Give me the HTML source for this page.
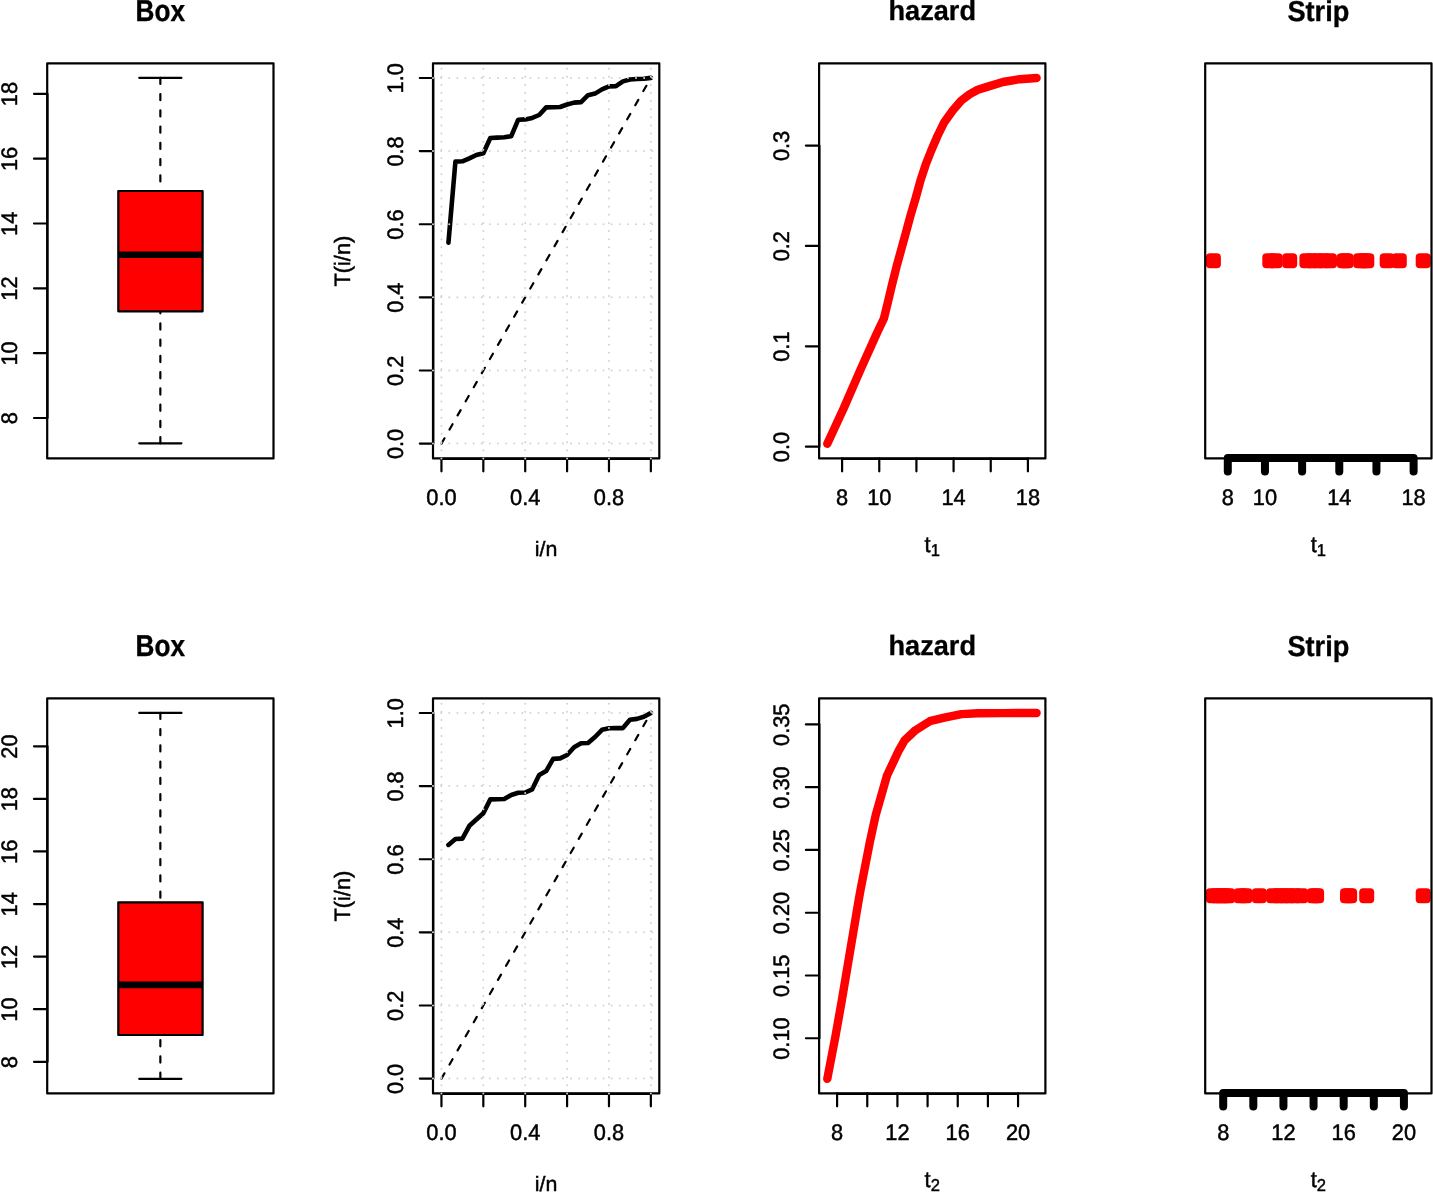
<!DOCTYPE html>
<html lang="en">
<head>
<meta charset="utf-8">
<title>Box, TTT, hazard and Strip plots</title>
<style>
html,body{margin:0;padding:0;background:#fff;}
body{width:1433px;height:1192px;overflow:hidden;}
svg{display:block;}
svg text{font-family:"Liberation Sans", sans-serif;fill:#000;text-rendering:geometricPrecision;}
</style>
</head>
<body>
<svg width="1433" height="1192" viewBox="0 0 1433 1192">
<rect width="1433" height="1192" fill="#fff"/>
<path d="M160.35 443.3V311.3M160.35 77.8V191" fill="none" stroke="#000" stroke-width="2.2" stroke-dasharray="6.09 10.16" stroke-linecap="round"/>
<path d="M139.25 443.3h42.2M139.25 77.8h42.2" fill="none" stroke="#000" stroke-width="2.2" stroke-linecap="round"/>
<rect x="118.3" y="191" width="84.3" height="120.3" fill="#f00" stroke="#000" stroke-width="2.2" stroke-linejoin="round"/>
<path d="M118.3 254.8H202.6" fill="none" stroke="#000" stroke-width="6.6" stroke-linecap="butt"/>
<path d="M47.5 93.8V418M47.2 418h-13.2M47.2 353.16h-13.2M47.2 288.32h-13.2M47.2 223.48h-13.2M47.2 158.64h-13.2M47.2 93.8h-13.2" fill="none" stroke="#000" stroke-width="2.2" stroke-linecap="round"/>
<text transform="translate(16.9 418.3) rotate(-90) scale(1 1.03)" font-size="21.8" text-anchor="middle" stroke="#000" stroke-width="0.45">8</text>
<text transform="translate(16.9 353.46) rotate(-90) scale(1 1.03)" font-size="21.8" text-anchor="middle" stroke="#000" stroke-width="0.45">10</text>
<text transform="translate(16.9 288.62) rotate(-90) scale(1 1.03)" font-size="21.8" text-anchor="middle" stroke="#000" stroke-width="0.45">12</text>
<text transform="translate(16.9 223.78) rotate(-90) scale(1 1.03)" font-size="21.8" text-anchor="middle" stroke="#000" stroke-width="0.45">14</text>
<text transform="translate(16.9 158.94) rotate(-90) scale(1 1.03)" font-size="21.8" text-anchor="middle" stroke="#000" stroke-width="0.45">16</text>
<text transform="translate(16.9 94.1) rotate(-90) scale(1 1.03)" font-size="21.8" text-anchor="middle" stroke="#000" stroke-width="0.45">18</text>
<rect x="47.2" y="63.3" width="226.3" height="395.1" fill="none" stroke="#000" stroke-width="2.2" stroke-linejoin="round"/>
<text transform="translate(160.35 20.65) scale(1 1.15)" font-size="26.2" text-anchor="middle" font-weight="bold" stroke="#000" stroke-width="0.3">Box</text>
<path d="M160.35 1078.8V1035M160.35 712.9V902.3" fill="none" stroke="#000" stroke-width="2.2" stroke-dasharray="6.09 10.16" stroke-linecap="round"/>
<path d="M139.25 1078.8h42.2M139.25 712.9h42.2" fill="none" stroke="#000" stroke-width="2.2" stroke-linecap="round"/>
<rect x="118.3" y="902.3" width="84.3" height="132.7" fill="#f00" stroke="#000" stroke-width="2.2" stroke-linejoin="round"/>
<path d="M118.3 984.9H202.6" fill="none" stroke="#000" stroke-width="6.6" stroke-linecap="butt"/>
<path d="M47.5 746.3V1061.78M47.2 1061.78h-13.2M47.2 1009.2h-13.2M47.2 956.62h-13.2M47.2 904.04h-13.2M47.2 851.46h-13.2M47.2 798.88h-13.2M47.2 746.3h-13.2" fill="none" stroke="#000" stroke-width="2.2" stroke-linecap="round"/>
<text transform="translate(16.9 1062.08) rotate(-90) scale(1 1.03)" font-size="21.8" text-anchor="middle" stroke="#000" stroke-width="0.45">8</text>
<text transform="translate(16.9 1009.5) rotate(-90) scale(1 1.03)" font-size="21.8" text-anchor="middle" stroke="#000" stroke-width="0.45">10</text>
<text transform="translate(16.9 956.92) rotate(-90) scale(1 1.03)" font-size="21.8" text-anchor="middle" stroke="#000" stroke-width="0.45">12</text>
<text transform="translate(16.9 904.34) rotate(-90) scale(1 1.03)" font-size="21.8" text-anchor="middle" stroke="#000" stroke-width="0.45">14</text>
<text transform="translate(16.9 851.76) rotate(-90) scale(1 1.03)" font-size="21.8" text-anchor="middle" stroke="#000" stroke-width="0.45">16</text>
<text transform="translate(16.9 799.18) rotate(-90) scale(1 1.03)" font-size="21.8" text-anchor="middle" stroke="#000" stroke-width="0.45">18</text>
<text transform="translate(16.9 746.6) rotate(-90) scale(1 1.03)" font-size="21.8" text-anchor="middle" stroke="#000" stroke-width="0.45">20</text>
<rect x="47.2" y="698.3" width="226.3" height="395.1" fill="none" stroke="#000" stroke-width="2.2" stroke-linejoin="round"/>
<text transform="translate(160.35 655.65) scale(1 1.15)" font-size="26.2" text-anchor="middle" font-weight="bold" stroke="#000" stroke-width="0.3">Box</text>
<polyline points="448.43,242.7 455.41,161.6 462.39,161.3 469.37,158.4 476.35,155 483.33,153.2 490.31,138 497.29,137.6 504.27,137.2 511.25,136.2 518.23,119.7 525.21,119.4 532.19,117.9 539.17,115 546.15,107.4 553.13,107.2 560.11,107 567.09,104.5 574.07,102.6 581.05,102.1 588.03,95.2 595.01,93.6 601.99,89.4 608.97,86.4 615.95,86.2 622.93,81.4 629.91,79.5 636.89,79 643.87,78.8 650.85,77.9" fill="none" stroke="#000" stroke-width="4.6" stroke-linecap="round" stroke-linejoin="round"/>
<path d="M441.45 443.6L650.85 78" fill="none" stroke="#000" stroke-width="2.2" stroke-dasharray="6.09 10.16" stroke-linecap="round"/>
<path d="M433.3 78V443.6M433 443.6h-13.2M433 370.48h-13.2M433 297.36h-13.2M433 224.24h-13.2M433 151.12h-13.2M433 78h-13.2" fill="none" stroke="#000" stroke-width="2.2" stroke-linecap="round"/>
<text transform="translate(402.7 443.9) rotate(-90) scale(1 1.03)" font-size="21.8" text-anchor="middle" stroke="#000" stroke-width="0.45">0.0</text>
<text transform="translate(402.7 370.78) rotate(-90) scale(1 1.03)" font-size="21.8" text-anchor="middle" stroke="#000" stroke-width="0.45">0.2</text>
<text transform="translate(402.7 297.66) rotate(-90) scale(1 1.03)" font-size="21.8" text-anchor="middle" stroke="#000" stroke-width="0.45">0.4</text>
<text transform="translate(402.7 224.54) rotate(-90) scale(1 1.03)" font-size="21.8" text-anchor="middle" stroke="#000" stroke-width="0.45">0.6</text>
<text transform="translate(402.7 151.42) rotate(-90) scale(1 1.03)" font-size="21.8" text-anchor="middle" stroke="#000" stroke-width="0.45">0.8</text>
<text transform="translate(402.7 78.3) rotate(-90) scale(1 1.03)" font-size="21.8" text-anchor="middle" stroke="#000" stroke-width="0.45">1.0</text>
<path d="M441.45 458.8H650.85M441.45 458.4V471.3M483.33 458.4V471.3M525.21 458.4V471.3M567.09 458.4V471.3M608.97 458.4V471.3M650.85 458.4V471.3" fill="none" stroke="#000" stroke-width="2.2" stroke-linecap="round" stroke-linejoin="round"/>
<text transform="translate(441.45 504.6) scale(1 1.03)" font-size="21.8" text-anchor="middle" stroke="#000" stroke-width="0.45">0.0</text>
<text transform="translate(525.21 504.6) scale(1 1.03)" font-size="21.8" text-anchor="middle" stroke="#000" stroke-width="0.45">0.4</text>
<text transform="translate(608.97 504.6) scale(1 1.03)" font-size="21.8" text-anchor="middle" stroke="#000" stroke-width="0.45">0.8</text>
<rect x="433" y="63.3" width="226.3" height="395.1" fill="none" stroke="#000" stroke-width="2.2" stroke-linejoin="round"/>
<path d="M441.45 458.4V63.3M483.33 458.4V63.3M525.21 458.4V63.3M567.09 458.4V63.3M608.97 458.4V63.3M650.85 458.4V63.3M433 443.6H659.3M433 370.48H659.3M433 297.36H659.3M433 224.24H659.3M433 151.12H659.3M433 78H659.3" fill="none" stroke="#d3d3d3" stroke-width="2" stroke-dasharray="0 8.12" stroke-linecap="round"/>
<text transform="translate(546.15 555.6) scale(1 0.97)" font-size="21.4" text-anchor="middle" stroke="#000" stroke-width="0.45">i/n</text>
<text transform="translate(350.3 261.15) rotate(-90) scale(1 1.02)" font-size="21.8" text-anchor="middle" stroke="#000" stroke-width="0.45">T(i/n)</text>
<polyline points="448.43,844.9 455.41,839 462.39,838.6 469.37,825.8 476.35,819.5 483.33,813.2 490.31,799.4 497.29,799.2 504.27,799 511.25,795 518.23,792.8 525.21,792.5 532.19,789.3 539.17,775 546.15,771.1 553.13,758.9 560.11,758.4 567.09,755 574.07,747.2 581.05,743.3 588.03,743 595.01,737 601.99,729.8 608.97,728.3 615.95,728.1 622.93,728.1 629.91,719.8 636.89,718.9 643.87,716.8 650.85,712.9" fill="none" stroke="#000" stroke-width="4.6" stroke-linecap="round" stroke-linejoin="round"/>
<path d="M441.45 1078.6L650.85 713" fill="none" stroke="#000" stroke-width="2.2" stroke-dasharray="6.09 10.16" stroke-linecap="round"/>
<path d="M433.3 713V1078.6M433 1078.6h-13.2M433 1005.48h-13.2M433 932.36h-13.2M433 859.24h-13.2M433 786.12h-13.2M433 713h-13.2" fill="none" stroke="#000" stroke-width="2.2" stroke-linecap="round"/>
<text transform="translate(402.7 1078.9) rotate(-90) scale(1 1.03)" font-size="21.8" text-anchor="middle" stroke="#000" stroke-width="0.45">0.0</text>
<text transform="translate(402.7 1005.78) rotate(-90) scale(1 1.03)" font-size="21.8" text-anchor="middle" stroke="#000" stroke-width="0.45">0.2</text>
<text transform="translate(402.7 932.66) rotate(-90) scale(1 1.03)" font-size="21.8" text-anchor="middle" stroke="#000" stroke-width="0.45">0.4</text>
<text transform="translate(402.7 859.54) rotate(-90) scale(1 1.03)" font-size="21.8" text-anchor="middle" stroke="#000" stroke-width="0.45">0.6</text>
<text transform="translate(402.7 786.42) rotate(-90) scale(1 1.03)" font-size="21.8" text-anchor="middle" stroke="#000" stroke-width="0.45">0.8</text>
<text transform="translate(402.7 713.3) rotate(-90) scale(1 1.03)" font-size="21.8" text-anchor="middle" stroke="#000" stroke-width="0.45">1.0</text>
<path d="M441.45 1093.8H650.85M441.45 1093.4V1106.3M483.33 1093.4V1106.3M525.21 1093.4V1106.3M567.09 1093.4V1106.3M608.97 1093.4V1106.3M650.85 1093.4V1106.3" fill="none" stroke="#000" stroke-width="2.2" stroke-linecap="round" stroke-linejoin="round"/>
<text transform="translate(441.45 1139.6) scale(1 1.03)" font-size="21.8" text-anchor="middle" stroke="#000" stroke-width="0.45">0.0</text>
<text transform="translate(525.21 1139.6) scale(1 1.03)" font-size="21.8" text-anchor="middle" stroke="#000" stroke-width="0.45">0.4</text>
<text transform="translate(608.97 1139.6) scale(1 1.03)" font-size="21.8" text-anchor="middle" stroke="#000" stroke-width="0.45">0.8</text>
<rect x="433" y="698.3" width="226.3" height="395.1" fill="none" stroke="#000" stroke-width="2.2" stroke-linejoin="round"/>
<path d="M441.45 1093.4V698.3M483.33 1093.4V698.3M525.21 1093.4V698.3M567.09 1093.4V698.3M608.97 1093.4V698.3M650.85 1093.4V698.3M433 1078.6H659.3M433 1005.48H659.3M433 932.36H659.3M433 859.24H659.3M433 786.12H659.3M433 713H659.3" fill="none" stroke="#d3d3d3" stroke-width="2" stroke-dasharray="0 8.12" stroke-linecap="round"/>
<text transform="translate(546.15 1190.6) scale(1 0.97)" font-size="21.4" text-anchor="middle" stroke="#000" stroke-width="0.45">i/n</text>
<text transform="translate(350.3 896.15) rotate(-90) scale(1 1.02)" font-size="21.8" text-anchor="middle" stroke="#000" stroke-width="0.45">T(i/n)</text>
<polyline points="827.3,443.8 843.6,408.51 860.4,369.82 877.1,332.73 883.9,318.49 888,301.65 892.2,284.01 896.4,267.17 900.6,251.83 905.7,233.28 910.7,214.84 915.7,198 920.8,179.45 925.8,164.31 930.8,151.68 937.6,135.74 944.3,122.21 952.7,110.48 961.1,100.76 969.4,94.44 977.8,89.73 986.2,87.12 1003,82.01 1019.8,79.2 1036.6,78" fill="none" stroke="#f00" stroke-width="8.4" stroke-linecap="round" stroke-linejoin="round"/>
<path d="M819.4 145.6V446.7M819.1 446.7h-13.2M819.1 346.3h-13.2M819.1 245.9h-13.2M819.1 145.6h-13.2" fill="none" stroke="#000" stroke-width="2.2" stroke-linecap="round"/>
<text transform="translate(788.8 447) rotate(-90) scale(1 1.03)" font-size="21.8" text-anchor="middle" stroke="#000" stroke-width="0.45">0.0</text>
<text transform="translate(788.8 346.6) rotate(-90) scale(1 1.03)" font-size="21.8" text-anchor="middle" stroke="#000" stroke-width="0.45">0.1</text>
<text transform="translate(788.8 246.2) rotate(-90) scale(1 1.03)" font-size="21.8" text-anchor="middle" stroke="#000" stroke-width="0.45">0.2</text>
<text transform="translate(788.8 145.9) rotate(-90) scale(1 1.03)" font-size="21.8" text-anchor="middle" stroke="#000" stroke-width="0.45">0.3</text>
<path d="M842.1 458.8H1027.9M842.1 458.4V471.3M879.26 458.4V471.3M916.42 458.4V471.3M953.58 458.4V471.3M990.74 458.4V471.3M1027.9 458.4V471.3" fill="none" stroke="#000" stroke-width="2.2" stroke-linecap="round" stroke-linejoin="round"/>
<text transform="translate(842.1 504.6) scale(1 1.03)" font-size="21.8" text-anchor="middle" stroke="#000" stroke-width="0.45">8</text>
<text transform="translate(879.26 504.6) scale(1 1.03)" font-size="21.8" text-anchor="middle" stroke="#000" stroke-width="0.45">10</text>
<text transform="translate(953.58 504.6) scale(1 1.03)" font-size="21.8" text-anchor="middle" stroke="#000" stroke-width="0.45">14</text>
<text transform="translate(1027.9 504.6) scale(1 1.03)" font-size="21.8" text-anchor="middle" stroke="#000" stroke-width="0.45">18</text>
<rect x="819.1" y="63.3" width="226.3" height="395.1" fill="none" stroke="#000" stroke-width="2.2" stroke-linejoin="round"/>
<text transform="translate(932.25 20.4) scale(1 1.035)" font-size="27.15" text-anchor="middle" font-weight="bold" stroke="#000" stroke-width="0.3">hazard</text>
<text transform="translate(932.25 552.3) scale(1 1.03)" font-size="21.8" text-anchor="middle" stroke="#000" stroke-width="0.45">t<tspan font-size="16.57" dy="3.4">1</tspan></text>
<polyline points="827.3,1078.8 835.7,1035 841.9,1000 858.7,900 860.5,890 870.2,840.3 875.7,815.2 887,775.5 898.9,750.3 904.6,740.3 915.5,730.2 929.8,721.2 944.3,717.6 961.4,714.1 977.8,713.3 1003,713.1 1036.6,713" fill="none" stroke="#f00" stroke-width="8.4" stroke-linecap="round" stroke-linejoin="round"/>
<path d="M819.4 724.45V1038.25M819.1 1038.25h-13.2M819.1 975.49h-13.2M819.1 912.73h-13.2M819.1 849.97h-13.2M819.1 787.21h-13.2M819.1 724.45h-13.2" fill="none" stroke="#000" stroke-width="2.2" stroke-linecap="round"/>
<text transform="translate(788.8 1038.55) rotate(-90) scale(1 1.03)" font-size="21.8" text-anchor="middle" stroke="#000" stroke-width="0.45">0.10</text>
<text transform="translate(788.8 975.79) rotate(-90) scale(1 1.03)" font-size="21.8" text-anchor="middle" stroke="#000" stroke-width="0.45">0.15</text>
<text transform="translate(788.8 913.03) rotate(-90) scale(1 1.03)" font-size="21.8" text-anchor="middle" stroke="#000" stroke-width="0.45">0.20</text>
<text transform="translate(788.8 850.27) rotate(-90) scale(1 1.03)" font-size="21.8" text-anchor="middle" stroke="#000" stroke-width="0.45">0.25</text>
<text transform="translate(788.8 787.51) rotate(-90) scale(1 1.03)" font-size="21.8" text-anchor="middle" stroke="#000" stroke-width="0.45">0.30</text>
<text transform="translate(788.8 724.75) rotate(-90) scale(1 1.03)" font-size="21.8" text-anchor="middle" stroke="#000" stroke-width="0.45">0.35</text>
<path d="M837.1 1093.8H1018.06M837.1 1093.4V1106.3M867.26 1093.4V1106.3M897.42 1093.4V1106.3M927.58 1093.4V1106.3M957.74 1093.4V1106.3M987.9 1093.4V1106.3M1018.06 1093.4V1106.3" fill="none" stroke="#000" stroke-width="2.2" stroke-linecap="round" stroke-linejoin="round"/>
<text transform="translate(837.1 1139.6) scale(1 1.03)" font-size="21.8" text-anchor="middle" stroke="#000" stroke-width="0.45">8</text>
<text transform="translate(897.42 1139.6) scale(1 1.03)" font-size="21.8" text-anchor="middle" stroke="#000" stroke-width="0.45">12</text>
<text transform="translate(957.74 1139.6) scale(1 1.03)" font-size="21.8" text-anchor="middle" stroke="#000" stroke-width="0.45">16</text>
<text transform="translate(1018.06 1139.6) scale(1 1.03)" font-size="21.8" text-anchor="middle" stroke="#000" stroke-width="0.45">20</text>
<rect x="819.1" y="698.3" width="226.3" height="395.1" fill="none" stroke="#000" stroke-width="2.2" stroke-linejoin="round"/>
<text transform="translate(932.25 655.4) scale(1 1.035)" font-size="27.15" text-anchor="middle" font-weight="bold" stroke="#000" stroke-width="0.3">hazard</text>
<text transform="translate(932.25 1187.3) scale(1 1.03)" font-size="21.8" text-anchor="middle" stroke="#000" stroke-width="0.45">t<tspan font-size="16.57" dy="3.4">2</tspan></text>
<rect x="1205.9" y="253.35" width="15.0" height="15.0" rx="4" fill="#f00"/>
<rect x="1262.3" y="253.35" width="15.0" height="15.0" rx="4" fill="#f00"/>
<rect x="1267.7" y="253.35" width="15.0" height="15.0" rx="4" fill="#f00"/>
<rect x="1282.2" y="253.35" width="15.0" height="15.0" rx="4" fill="#f00"/>
<rect x="1299.4" y="253.35" width="15.0" height="15.0" rx="4" fill="#f00"/>
<rect x="1304.5" y="253.35" width="15.0" height="15.0" rx="4" fill="#f00"/>
<rect x="1310.5" y="253.35" width="15.0" height="15.0" rx="4" fill="#f00"/>
<rect x="1315.5" y="253.35" width="15.0" height="15.0" rx="4" fill="#f00"/>
<rect x="1322" y="253.35" width="15.0" height="15.0" rx="4" fill="#f00"/>
<rect x="1336.7" y="253.35" width="15.0" height="15.0" rx="4" fill="#f00"/>
<rect x="1338.6" y="253.35" width="15.0" height="15.0" rx="4" fill="#f00"/>
<rect x="1353.1" y="253.35" width="15.0" height="15.0" rx="4" fill="#f00"/>
<rect x="1356.5" y="253.35" width="15.0" height="15.0" rx="4" fill="#f00"/>
<rect x="1359.3" y="253.35" width="15.0" height="15.0" rx="4" fill="#f00"/>
<rect x="1379.7" y="253.35" width="15.0" height="15.0" rx="4" fill="#f00"/>
<rect x="1391.8" y="253.35" width="15.0" height="15.0" rx="4" fill="#f00"/>
<rect x="1415.7" y="253.35" width="15.0" height="15.0" rx="4" fill="#f00"/>
<rect x="1205.2" y="63.3" width="226.3" height="395.1" fill="none" stroke="#000" stroke-width="2.2" stroke-linejoin="round"/>
<path d="M1227.8 458H1413.6M1227.8 458V471.4M1264.96 458V471.4M1302.12 458V471.4M1339.28 458V471.4M1376.44 458V471.4M1413.6 458V471.4" fill="none" stroke="#000" stroke-width="8.0" stroke-linecap="round" stroke-linejoin="round"/>
<text transform="translate(1227.8 504.6) scale(1 1.03)" font-size="21.8" text-anchor="middle" stroke="#000" stroke-width="0.45">8</text>
<text transform="translate(1264.96 504.6) scale(1 1.03)" font-size="21.8" text-anchor="middle" stroke="#000" stroke-width="0.45">10</text>
<text transform="translate(1339.28 504.6) scale(1 1.03)" font-size="21.8" text-anchor="middle" stroke="#000" stroke-width="0.45">14</text>
<text transform="translate(1413.6 504.6) scale(1 1.03)" font-size="21.8" text-anchor="middle" stroke="#000" stroke-width="0.45">18</text>
<text transform="translate(1318.35 20.8) scale(1 1.06)" font-size="27.2" text-anchor="middle" font-weight="bold" stroke="#000" stroke-width="0.3">Strip</text>
<text transform="translate(1318.35 552.3) scale(1 1.03)" font-size="21.8" text-anchor="middle" stroke="#000" stroke-width="0.45">t<tspan font-size="16.57" dy="3.4">1</tspan></text>
<rect x="1205.9" y="888.35" width="15.0" height="15.0" rx="4" fill="#f00"/>
<rect x="1209.5" y="888.35" width="15.0" height="15.0" rx="4" fill="#f00"/>
<rect x="1213.5" y="888.35" width="15.0" height="15.0" rx="4" fill="#f00"/>
<rect x="1217" y="888.35" width="15.0" height="15.0" rx="4" fill="#f00"/>
<rect x="1220.3" y="888.35" width="15.0" height="15.0" rx="4" fill="#f00"/>
<rect x="1233.7" y="888.35" width="15.0" height="15.0" rx="4" fill="#f00"/>
<rect x="1237.5" y="888.35" width="15.0" height="15.0" rx="4" fill="#f00"/>
<rect x="1251.8" y="888.35" width="15.0" height="15.0" rx="4" fill="#f00"/>
<rect x="1266.1" y="888.35" width="15.0" height="15.0" rx="4" fill="#f00"/>
<rect x="1271.5" y="888.35" width="15.0" height="15.0" rx="4" fill="#f00"/>
<rect x="1276.5" y="888.35" width="15.0" height="15.0" rx="4" fill="#f00"/>
<rect x="1281.5" y="888.35" width="15.0" height="15.0" rx="4" fill="#f00"/>
<rect x="1287" y="888.35" width="15.0" height="15.0" rx="4" fill="#f00"/>
<rect x="1293.3" y="888.35" width="15.0" height="15.0" rx="4" fill="#f00"/>
<rect x="1306.7" y="888.35" width="15.0" height="15.0" rx="4" fill="#f00"/>
<rect x="1309.1" y="888.35" width="15.0" height="15.0" rx="4" fill="#f00"/>
<rect x="1340" y="888.35" width="15.0" height="15.0" rx="4" fill="#f00"/>
<rect x="1342.1" y="888.35" width="15.0" height="15.0" rx="4" fill="#f00"/>
<rect x="1359.2" y="888.35" width="15.0" height="15.0" rx="4" fill="#f00"/>
<rect x="1415.7" y="888.35" width="15.0" height="15.0" rx="4" fill="#f00"/>
<rect x="1205.2" y="698.3" width="226.3" height="395.1" fill="none" stroke="#000" stroke-width="2.2" stroke-linejoin="round"/>
<path d="M1223.2 1093H1403.92M1223.2 1093V1106.4M1253.32 1093V1106.4M1283.44 1093V1106.4M1313.56 1093V1106.4M1343.68 1093V1106.4M1373.8 1093V1106.4M1403.92 1093V1106.4" fill="none" stroke="#000" stroke-width="8.0" stroke-linecap="round" stroke-linejoin="round"/>
<text transform="translate(1223.2 1139.6) scale(1 1.03)" font-size="21.8" text-anchor="middle" stroke="#000" stroke-width="0.45">8</text>
<text transform="translate(1283.44 1139.6) scale(1 1.03)" font-size="21.8" text-anchor="middle" stroke="#000" stroke-width="0.45">12</text>
<text transform="translate(1343.68 1139.6) scale(1 1.03)" font-size="21.8" text-anchor="middle" stroke="#000" stroke-width="0.45">16</text>
<text transform="translate(1403.92 1139.6) scale(1 1.03)" font-size="21.8" text-anchor="middle" stroke="#000" stroke-width="0.45">20</text>
<text transform="translate(1318.35 655.8) scale(1 1.06)" font-size="27.2" text-anchor="middle" font-weight="bold" stroke="#000" stroke-width="0.3">Strip</text>
<text transform="translate(1318.35 1187.3) scale(1 1.03)" font-size="21.8" text-anchor="middle" stroke="#000" stroke-width="0.45">t<tspan font-size="16.57" dy="3.4">2</tspan></text>
</svg>
</body>
</html>
